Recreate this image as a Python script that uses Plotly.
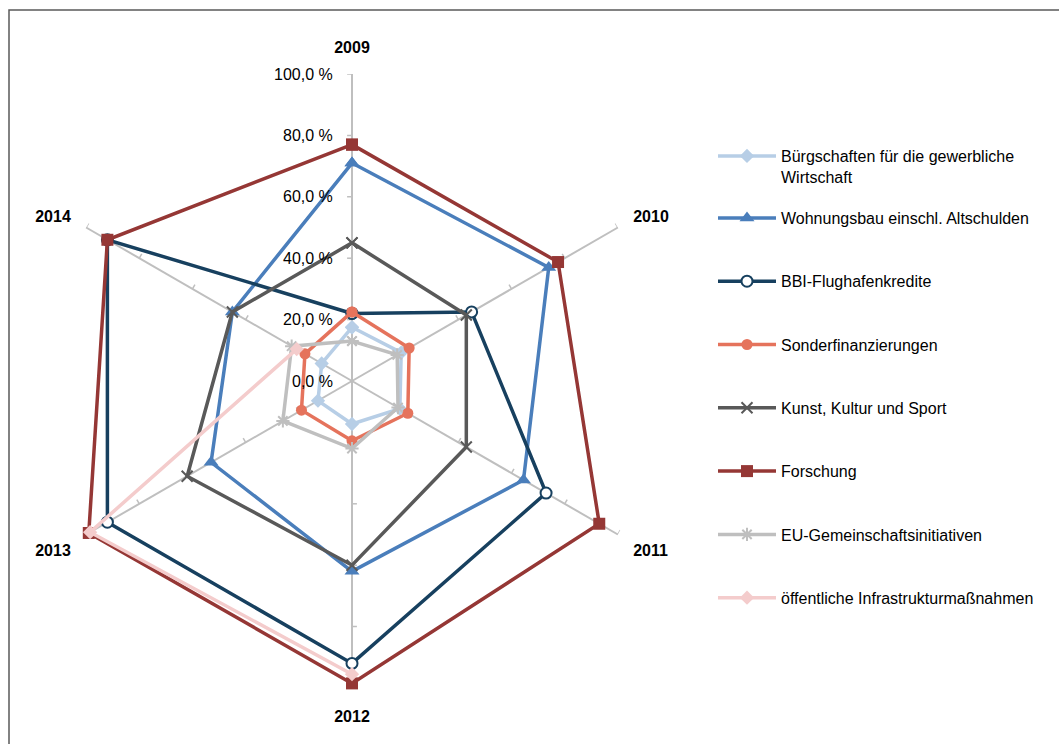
import math
import plotly.graph_objects as go

# Spokes of the radar: one per year, clockwise from the top
years = ["2009", "2010", "2011", "2012", "2013", "2014"]
year_angles = [0, 60, 120, 180, 240, 300]

# Radial scale (percent)
radial_ticks = [0, 20, 40, 60, 80, 100]
radial_tick_text = ["0,0 %", "20,0 %", "40,0 %", "60,0 %", "80,0 %", "100,0 %"]

# Series values in percent, 2009..2014
buergschaften = [17.5, 18.5, 18.0, 14.0, 12.8, 11.4]
wohnungsbau = [71.0, 74.0, 64.5, 62.0, 53.0, 45.0]
bbi = [22.0, 45.0, 73.0, 92.0, 92.0, 92.0]
sonderfinanzierungen = [22.5, 21.5, 21.0, 19.5, 19.0, 17.7]
kunst = [45.0, 43.0, 43.0, 60.0, 62.0, 45.0]
forschung = [77.0, 77.5, 93.0, 98.5, 99.0, 92.0]
eu_initiativen = [13.0, 17.0, 17.3, 22.0, 26.0, 22.7]
infrastruktur = [None, None, None, 95.5, 98.5, 20.8]

series = [
    ("Bürgschaften für die gewerbliche<br>Wirtschaft", buergschaften, "#B7CEE6",
     dict(symbol="diamond", size=11, color="#B7CEE6"), "legend"),
    ("Wohnungsbau einschl. Altschulden", wohnungsbau, "#4A7EBB",
     dict(symbol="triangle-up", size=13, color="#4A7EBB"), "legend2"),
    ("BBI-Flughafenkredite", bbi, "#17405F",
     dict(symbol="circle", size=11, color="white",
          line=dict(color="#17405F", width=2)), "legend2"),
    ("Sonderfinanzierungen", sonderfinanzierungen, "#E5735C",
     dict(symbol="circle", size=11, color="#E5735C"), "legend2"),
    ("Kunst, Kultur und Sport", kunst, "#595959",
     dict(symbol="x-thin-open", size=11, color="#595959",
          line=dict(color="#595959", width=2)), "legend2"),
    ("Forschung", forschung, "#953735",
     dict(symbol="square", size=12, color="#953735"), "legend2"),
    ("EU-Gemeinschaftsinitiativen", eu_initiativen, "#BFBFBF",
     dict(symbol="asterisk-open", size=11, color="#BFBFBF",
          line=dict(color="#BFBFBF", width=2)), "legend2"),
    ("öffentliche Infrastrukturmaßnahmen", infrastruktur, "#F4CCCC",
     dict(symbol="diamond", size=11, color="#F4CCCC"), "legend2"),
]

FONT = "Liberation Sans, Arial, sans-serif"
GRID = "#BFBFBF"

W, H = 1059, 744
cx, cy, rad = 352, 381, 307

fig = go.Figure()

# Small one-sided tick marks along every spoke
tick_side = [-1, -1, -1, -1, 1, 1]
tick_len = 1.6  # in radial units
tr, tt = [], []
for ang, side in zip(year_angles, tick_side):
    for r in radial_ticks[1:]:
        tr += [r, math.hypot(r, tick_len), None]
        tt += [ang, ang + side * math.degrees(math.atan(tick_len / r)), None]
fig.add_trace(go.Scatterpolar(
    r=tr, theta=tt, mode="lines", line=dict(color=GRID, width=1.5),
    hoverinfo="skip", showlegend=False, connectgaps=False))

for name, vals, color, marker, leg in series:
    fig.add_trace(go.Scatterpolar(
        r=vals + [vals[0]],
        theta=year_angles + [year_angles[0]],
        mode="lines+markers",
        name=name,
        legend=leg,
        legendgroup=name,
        line=dict(color=color, width=3.5),
        marker=marker,
        connectgaps=False,
    ))

# Horizontal value labels beside the 2009 spoke
annotations = []
for v, txt in zip(radial_ticks, radial_tick_text):
    annotations.append(dict(
        xref="paper", yref="paper",
        x=(cx - 17) / W, y=(H - (cy - v / 100 * rad)) / H,
        xanchor="right", yanchor="middle", showarrow=False,
        text=txt, font=dict(family=FONT, size=16, color="#000000"),
    ))

fig.update_layout(
    width=W, height=H,
    margin=dict(l=0, r=0, t=0, b=0),
    paper_bgcolor="white",
    font=dict(family=FONT, size=16, color="#000000"),
    polar=dict(
        domain=dict(x=[(cx - rad) / W, (cx + rad) / W],
                    y=[(H - cy - rad) / H, (H - cy + rad) / H]),
        bgcolor="white",
        angularaxis=dict(
            rotation=90, direction="clockwise", thetaunit="degrees",
            tickmode="array", tickvals=year_angles,
            ticktext=["<b>%s</b>" % y for y in years],
            tickfont=dict(family=FONT, size=16, color="#000000"),
            showline=False, showgrid=True, gridcolor=GRID, gridwidth=1.5,
            ticks="outside", ticklen=14, tickcolor="rgba(0,0,0,0)",
        ),
        radialaxis=dict(
            range=[0, 100], angle=90,
            showticklabels=False,
            showgrid=False, showline=False, ticks="",
        ),
    ),
    legend=dict(
        x=713 / W, y=(H - 139) / H, xanchor="left", yanchor="top",
        itemwidth=58, valign="top", bgcolor="rgba(0,0,0,0)",
        font=dict(family=FONT, size=16, color="#000000"),
    ),
    legend2=dict(
        x=713 / W, y=(H - 201) / H, xanchor="left", yanchor="top",
        itemwidth=58, tracegroupgap=39.5, bgcolor="rgba(0,0,0,0)",
        font=dict(family=FONT, size=16, color="#000000"),
    ),
    annotations=annotations,
    shapes=[dict(type="rect", xref="paper", yref="paper",
                 x0=9 / W, x1=1.02, y0=-0.02, y1=(H - 10) / H,
                 line=dict(color="#595959", width=1.5))],
)

fig.write_html("out.html")
